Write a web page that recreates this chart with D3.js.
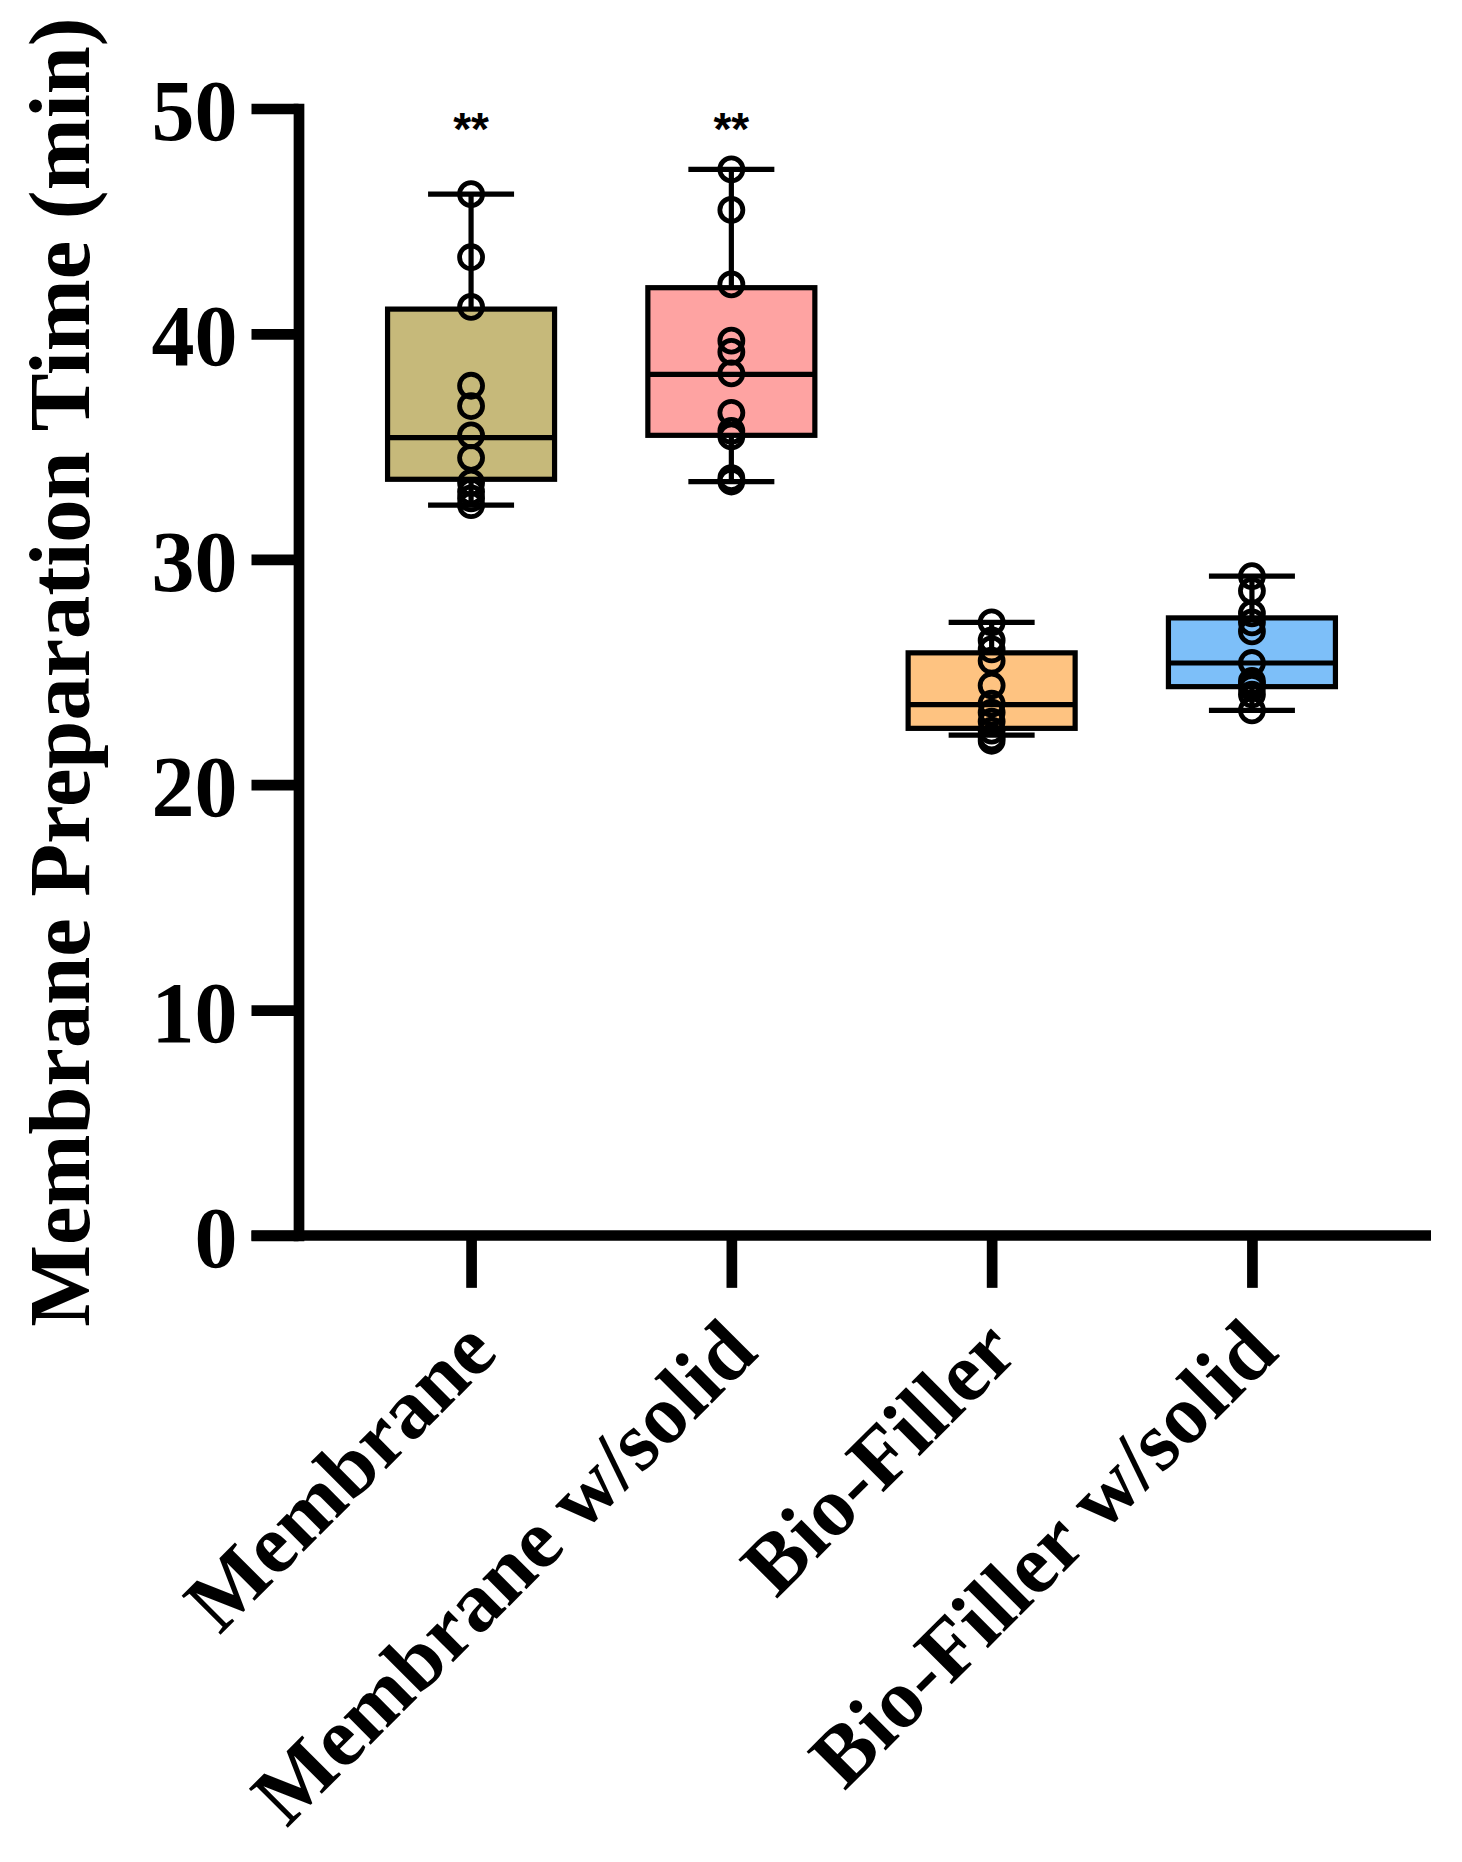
<!DOCTYPE html>
<html>
<head>
<meta charset="utf-8">
<script src="https://cdn.jsdelivr.net/npm/d3@7"></script>
<style>
  body { margin: 0; background: #fff; }
  svg { display: block; }
</style>
</head>
<body>
<div id="chart"></div>
<script>
// categories and values
const categories = ['Membrane', 'Membrane w/solid', 'Bio-Filler', 'Bio-Filler w/solid'];
const boxColors = ['#C6B97A', '#FEA3A2', '#FEC381', '#7DBFF9'];

const boxMin = [32.4, 33.45, 22.2, 23.3];
const boxQ1 = [33.55, 35.5, 22.5, 24.35];
const boxMedian = [35.4, 38.2, 23.55, 25.4];
const boxQ3 = [41.1, 42.05, 25.85, 27.4];
const boxMax = [46.2, 47.3, 27.2, 29.25];

const membranePoints = [46.2, 43.4, 41.2, 37.7, 36.8, 35.5, 34.5, 33.4, 33.0, 32.7, 32.4];
const membraneSolidPoints = [47.3, 45.5, 42.2, 39.7, 39.2, 38.25, 36.5, 35.7, 35.45, 33.6, 33.45];
const bioFillerPoints = [27.2, 26.4, 26.0, 25.5, 24.4, 23.6, 23.2, 22.8, 22.4, 22.1, 21.95];
const bioFillerSolidPoints = [29.25, 28.6, 27.6, 27.2, 26.8, 25.4, 24.6, 24.45, 24.3, 24.0, 23.3];

const sigLabels = ['**', '**', '', ''];
const yTicks = [0, 10, 20, 30, 40, 50];

const allPoints = [membranePoints, membraneSolidPoints, bioFillerPoints, bioFillerSolidPoints];

const width = 1462;
const height = 1862;

const axisX = 298.5;
const axisRight = 1431;
const axisWidth = 10.7;
const tickLen = 47;
const boxWidth = 167;
const capWidth = 86;
const lineWidth = 5.2;
const serif = '"Liberation Serif", "Times New Roman", serif';

const svg = d3.select('#chart')
  .append('svg')
    .attr('width', width)
    .attr('height', height);

const y = d3.scaleLinear()
    .domain([0, 50])
    .range([1235.5, 108.5]);

const x = d3.scalePoint()
    .domain(categories)
    .range([axisX, 1424.5])
    .padding(0.663);

// y axis
const yAxisG = svg.append('g')
    .attr('class', 'axis-y')
    .attr('transform', 'translate(' + axisX + ',0)')
    .call(d3.axisLeft(y)
      .tickValues(yTicks)
      .tickSize(tickLen)
      .tickSizeOuter(0)
      .tickPadding(14));

yAxisG.select('.domain')
    .attr('stroke', '#000')
    .attr('stroke-width', axisWidth)
    .attr('stroke-linecap', 'square');
yAxisG.selectAll('.tick line')
    .attr('stroke', '#000')
    .attr('stroke-width', axisWidth);
yAxisG.selectAll('.tick text')
    .attr('fill', '#000')
    .attr('dy', '0.36em')
    .style('font-family', serif)
    .style('font-weight', 'bold')
    .style('font-size', '86px');

// x axis
const xAxisG = svg.append('g')
    .attr('class', 'axis-x')
    .attr('transform', 'translate(0,' + y(0) + ')')
    .call(d3.axisBottom(x)
      .tickSize(tickLen + axisWidth / 2)
      .tickSizeOuter(0)
      .tickFormat(''));

xAxisG.select('.domain').remove();
xAxisG.selectAll('.tick line')
    .attr('stroke', '#000')
    .attr('stroke-width', axisWidth);
xAxisG.append('line')
    .attr('x1', axisX - tickLen)
    .attr('x2', axisRight)
    .attr('y1', 0)
    .attr('y2', 0)
    .attr('stroke', '#000')
    .attr('stroke-width', axisWidth);

xAxisG.selectAll('.cat-label')
  .data(categories)
  .enter().append('text')
    .attr('class', 'cat-label')
    .attr('fill', '#000')
    .attr('transform', (d) => 'translate(' + (x(d) + 8) + ',' + (tickLen + 52) + ') rotate(-45)')
    .attr('text-anchor', 'end')
    .attr('dy', '0.35em')
    .style('font-family', serif)
    .style('font-weight', 'bold')
    .style('font-size', '84px')
    .text((d) => d);

// y axis title
svg.append('text')
    .attr('transform', 'translate(89,672) rotate(-90)')
    .attr('text-anchor', 'middle')
    .attr('fill', '#000')
    .style('font-family', serif)
    .style('font-weight', 'bold')
    .style('font-size', '86.5px')
    .text('Membrane Preparation Time (min)');

// boxes
const boxes = svg.append('g')
    .attr('class', 'boxes')
  .selectAll('g')
  .data(categories.map((c, i) => ({
    key: c,
    color: boxColors[i],
    min: boxMin[i], q1: boxQ1[i], median: boxMedian[i], q3: boxQ3[i], max: boxMax[i],
    points: allPoints[i],
    sig: sigLabels[i]
  })))
  .enter().append('g')
    .attr('transform', (d) => 'translate(' + x(d.key) + ',0)');

boxes.append('line')
    .attr('y1', (d) => y(d.max))
    .attr('y2', (d) => y(d.q3))
    .attr('stroke', '#000')
    .attr('stroke-width', lineWidth);
boxes.append('line')
    .attr('y1', (d) => y(d.q1))
    .attr('y2', (d) => y(d.min))
    .attr('stroke', '#000')
    .attr('stroke-width', lineWidth);
boxes.append('line')
    .attr('x1', -capWidth / 2)
    .attr('x2', capWidth / 2)
    .attr('y1', (d) => y(d.max))
    .attr('y2', (d) => y(d.max))
    .attr('stroke', '#000')
    .attr('stroke-width', lineWidth);
boxes.append('line')
    .attr('x1', -capWidth / 2)
    .attr('x2', capWidth / 2)
    .attr('y1', (d) => y(d.min))
    .attr('y2', (d) => y(d.min))
    .attr('stroke', '#000')
    .attr('stroke-width', lineWidth);

boxes.append('rect')
    .attr('x', -boxWidth / 2)
    .attr('width', boxWidth)
    .attr('y', (d) => y(d.q3))
    .attr('height', (d) => y(d.q1) - y(d.q3))
    .attr('fill', (d) => d.color)
    .attr('stroke', '#000')
    .attr('stroke-width', lineWidth);

boxes.append('line')
    .attr('x1', -boxWidth / 2)
    .attr('x2', boxWidth / 2)
    .attr('y1', (d) => y(d.median))
    .attr('y2', (d) => y(d.median))
    .attr('stroke', '#000')
    .attr('stroke-width', lineWidth);

boxes.selectAll('circle')
  .data((d) => d.points)
  .enter().append('circle')
    .attr('cx', 0)
    .attr('cy', (d) => y(d))
    .attr('r', 11.5)
    .attr('fill', 'none')
    .attr('stroke', '#000')
    .attr('stroke-width', 4.8);

boxes.append('text')
    .attr('y', y(48.4))
    .attr('text-anchor', 'middle')
    .attr('fill', '#000')
    .style('font-family', '"Liberation Sans", Arial, sans-serif')
    .style('font-weight', 'bold')
    .style('font-size', '46px')
    .text((d) => d.sig);
</script>
</body>
</html>
